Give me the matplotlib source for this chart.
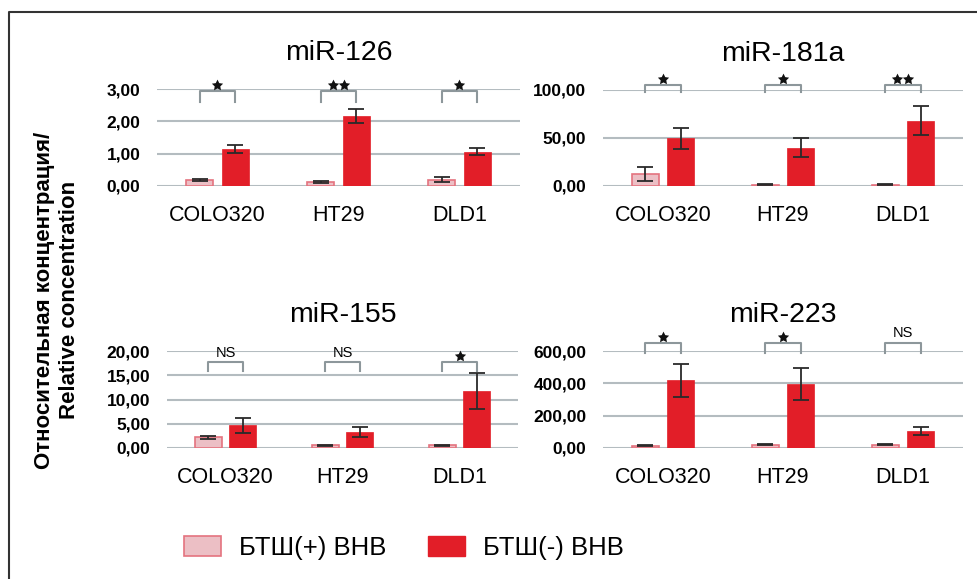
import matplotlib.pyplot as plt
from matplotlib.patches import Patch
from matplotlib.lines import Line2D
from matplotlib.transforms import offset_copy

plt.rcParams['font.family'] = ['Liberation Sans', 'DejaVu Sans']

cells = ['COLO320', 'HT29', 'DLD1']
legend_labels = ['БТШ(+) ВНВ', 'БТШ(-) ВНВ']

# miR-126
t126 = [0.19, 0.11, 0.20]
t126_err = [0.04, 0.03, 0.08]
s126 = [1.14, 2.16, 1.06]
s126_err = [0.13, 0.21, 0.11]
sig126 = ['*', '**', '*']
ticks126 = [0, 1, 2, 3]

# miR-181a
t181 = [12.5, 1.5, 1.5]
t181_err = [7.5, 0.3, 0.3]
s181 = [49.5, 40.0, 68.0]
s181_err = [11.0, 9.5, 15.0]
sig181 = ['*', '*', '**']
ticks181 = [0, 50, 100]

# miR-155
t155 = [2.2, 0.55, 0.55]
t155_err = [0.35, 0.05, 0.05]
s155 = [4.65, 3.35, 11.7]
s155_err = [1.55, 1.05, 3.7]
sig155 = ['NS', 'NS', '*']
ticks155 = [0, 5, 10, 15, 20]

# miR-223
t223 = [15, 21, 21]
t223_err = [3, 3, 3]
s223 = [418, 393, 105]
s223_err = [104, 99, 26]
sig223 = ['*', '*', 'NS']
ticks223 = [0, 200, 400, 600]

pink = '#ecbfc5'
pink_edge = '#e4737f'
red = '#e21e28'
grid_c = '#b4bcc0'
brk_c = '#8d979b'

fig = plt.figure(figsize=(9.78, 5.79), dpi=100)
W, H = 978, 579


def ax_at(x0, x1, ytop, ybot):
    return fig.add_axes([x0 / W, 1 - ybot / H, (x1 - x0) / W, (ybot - ytop) / H])


panels = [
    (ax_at(157, 520, 89, 186), 'miR-126', t126, t126_err, s126, s126_err, sig126, ticks126, (0.977, 0.865)),
    (ax_at(603, 963, 90, 186), 'miR-181a', t181, t181_err, s181, s181_err, sig181, ticks181, (1.052, 0.983)),
    (ax_at(167, 518, 351, 448), 'miR-155', t155, t155_err, s155, s155_err, sig155, ticks155, (0.89, 0.795)),
    (ax_at(603, 963, 351, 448), 'miR-223', t223, t223_err, s223, s223_err, sig223, ticks223, (1.087, 0.983)),
]

bw = 0.225
off = 0.146
for ax, title, tv, te, sv, se, sig, ticks, (btop, bbot) in panels:
    ymax = ticks[-1]
    x = range(len(cells))
    xp = [i - off for i in x]
    xr = [i + off for i in x]
    ax.bar(xp, tv, bw, color=pink, edgecolor=pink_edge, linewidth=1.2, zorder=3)
    ax.bar(xr, sv, bw, color=red, edgecolor=red, linewidth=0.5, zorder=3)
    ax.errorbar(xp, tv, yerr=te, fmt='none', ecolor='#2a2a2a', elinewidth=1.3, capsize=6, capthick=1.3, zorder=4)
    ax.errorbar(xr, sv, yerr=se, fmt='none', ecolor='#2a2a2a', elinewidth=1.3, capsize=6, capthick=1.3, zorder=4)
    ax.set_xlim(-0.5, len(cells) - 0.5)
    ax.set_ylim(0, ymax)
    ax.set_yticks(ticks)
    ax.set_yticklabels(['{:.2f}'.format(t).replace('.', ',') for t in ticks], fontsize=12.5, fontweight='bold')
    ax.set_xticks(list(x))
    ax.set_xticklabels(cells, fontsize=15.5)
    ax.tick_params(axis='both', length=0)
    ax.tick_params(axis='y', pad=12)
    ax.tick_params(axis='x', pad=14)
    for s in ax.spines.values():
        s.set_visible(False)
    ax.grid(axis='y', color=grid_c, linewidth=1.5, zorder=0)
    ax.set_axisbelow(True)
    ax.set_title(title, fontsize=20.5, pad=21)
    for i, lab in enumerate(sig):
        yt = btop * ymax
        yb = bbot * ymax
        ax.add_line(Line2D([xp[i], xp[i], xr[i], xr[i]], [yb, yt, yt, yb], color=brk_c,
                           linewidth=1.5, clip_on=False, zorder=5, solid_joinstyle='round'))
        if lab == 'NS':
            ax.annotate(lab, (i, yt), xytext=(0, 1.5), textcoords='offset points', ha='center',
                        va='bottom', fontsize=10.5, annotation_clip=False)
        else:
            n = len(lab)
            for k in range(n):
                dx = (k - (n - 1) / 2) * 11
                tr = offset_copy(ax.transData, fig=fig, x=dx, y=6, units='dots')
                ax.plot([i], [yt], marker=(5, 1, 0), markersize=8.5, markeredgewidth=0,
                        color='#111111', transform=tr, clip_on=False, zorder=6)

fig.text(57 / W, 1 - 300 / H, 'Относительная концентрация/\nRelative concentration', rotation=90,
         ha='center', va='center', fontsize=16, fontweight='bold', linespacing=1.2)

handles = [Patch(facecolor=pink, edgecolor=pink_edge, linewidth=1.2),
           Patch(facecolor=red, edgecolor=red)]
fig.legend(handles, legend_labels, loc='center left', bbox_to_anchor=(161 / W, 1 - 548 / H), ncol=2,
           frameon=False, fontsize=18.5, handlelength=1.45, handleheight=0.85, columnspacing=1.6,
           handletextpad=0.7)

fig.add_artist(Line2D([9 / W, 9 / W, 1], [0, 1 - 12 / H, 1 - 12 / H], color='#333333', linewidth=1.5))

fig.savefig('out.png', dpi=100)
